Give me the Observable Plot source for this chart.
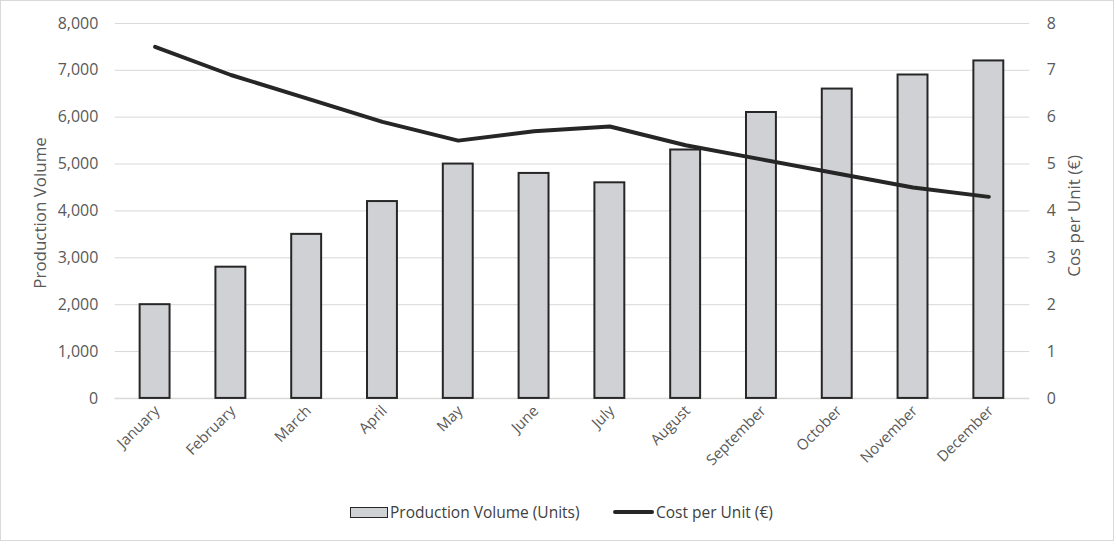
<!DOCTYPE html>
<html>
<head>
<meta charset="utf-8">
<script src="https://cdn.jsdelivr.net/npm/d3@7"></script>
<script src="https://cdn.jsdelivr.net/npm/@observablehq/plot@0.6"></script>
<style>
  html, body { margin: 0; padding: 0; background: #fff; }
  #frame { position: absolute; left: 0; top: 0; width: 1112px; height: 539px; border: 1px solid #d9d9d9; overflow: hidden; }
  #chart { position: absolute; left: -1px; top: -1px; }
  #legend { position: absolute; top: 500px; left: 0; width: 1114px; font-family: "Open Sans", sans-serif; font-size: 15.5px; color: #404040; }
  .item { position: absolute; display: flex; align-items: center; top: 0; }
  .sw-bar { width: 36px; height: 9px; background: #d0d1d5; border: 1.5px solid #262626; margin-right: 2px; }
  .sw-line { width: 41px; height: 4px; background: #262626; border-radius: 2px; margin-right: 2px; }
</style>
</head>
<body>
<div id="frame">
  <div id="chart"></div>
  <div id="legend">
    <div class="item" style="left:349px"><div class="sw-bar"></div><span>Production Volume (Units)</span></div>
    <div class="item" style="left:612px"><div class="sw-line"></div><span>Cost per Unit (€)</span></div>
  </div>
</div>
<script>
const months = ["January","February","March","April","May","June","July","August","September","October","November","December"];
const volume = [2000, 2800, 3500, 4200, 5000, 4800, 4600, 5300, 6100, 6600, 6900, 7200];
const costPerUnit = [7.5, 6.9, 6.4, 5.9, 5.5, 5.7, 5.8, 5.4, 5.1, 4.8, 4.5, 4.3];
const volumeTicks = [0, 1000, 2000, 3000, 4000, 5000, 6000, 7000, 8000];
const costTicks = [0, 1, 2, 3, 4, 5, 6, 7, 8];

const data = months.map((m, i) => ({month: m, volume: volume[i], cost: costPerUnit[i]}));
const ratio = 1000; // cost axis 0–8 maps onto volume axis 0–8000

const chart = Plot.plot({
  width: 1116,
  height: 480,
  marginLeft: 115,
  marginRight: 84,
  marginTop: 23,
  marginBottom: 81,
  style: {fontFamily: "'Open Sans', sans-serif", fontSize: "16px", color: "#595959", background: "transparent"},
  x: {domain: months, paddingInner: 0.6, paddingOuter: 0.3, label: null},
  y: {domain: [0, 8000], label: null},
  marks: [
    Plot.gridY(volumeTicks, {stroke: "#d9d9d9", strokeOpacity: 1, strokeWidth: 1}),
    Plot.ruleY([0], {stroke: "#d9d9d9", strokeWidth: 1.5}),
    Plot.axisY(volumeTicks, {anchor: "left", tickSize: 0, tickPadding: 17, tickFormat: d3.format(","), label: null, fontSize: 16}),
    Plot.text(["Production Volume"], {frameAnchor: "left", textAnchor: "middle", dx: -75, dy: 2, rotate: -90, fontSize: 17, fill: "#595959"}),
    Plot.axisY(costTicks.map(d => d * ratio), {anchor: "right", tickSize: 0, tickPadding: 17, tickFormat: d => d / ratio, label: null, fontSize: 16}),
    Plot.text(["Cos per Unit (€)"], {frameAnchor: "right", textAnchor: "middle", dx: 45, dy: 5, rotate: -90, fontSize: 17, fill: "#595959"}),
    Plot.axisX({tickSize: 0, tickRotate: -45, tickPadding: 10, fontSize: 15, label: null, dx: 2}),
    Plot.barY(data, {x: "month", y: "volume", fill: "#d0d1d5", stroke: "#262626", strokeWidth: 2}),
    Plot.line(data, {x: "month", y: d => d.cost * ratio, stroke: "#262626", strokeWidth: 4, curve: "linear", strokeLinecap: "round", strokeLinejoin: "round"})
  ]
});
document.getElementById("chart").appendChild(chart);
</script>
</body>
</html>
